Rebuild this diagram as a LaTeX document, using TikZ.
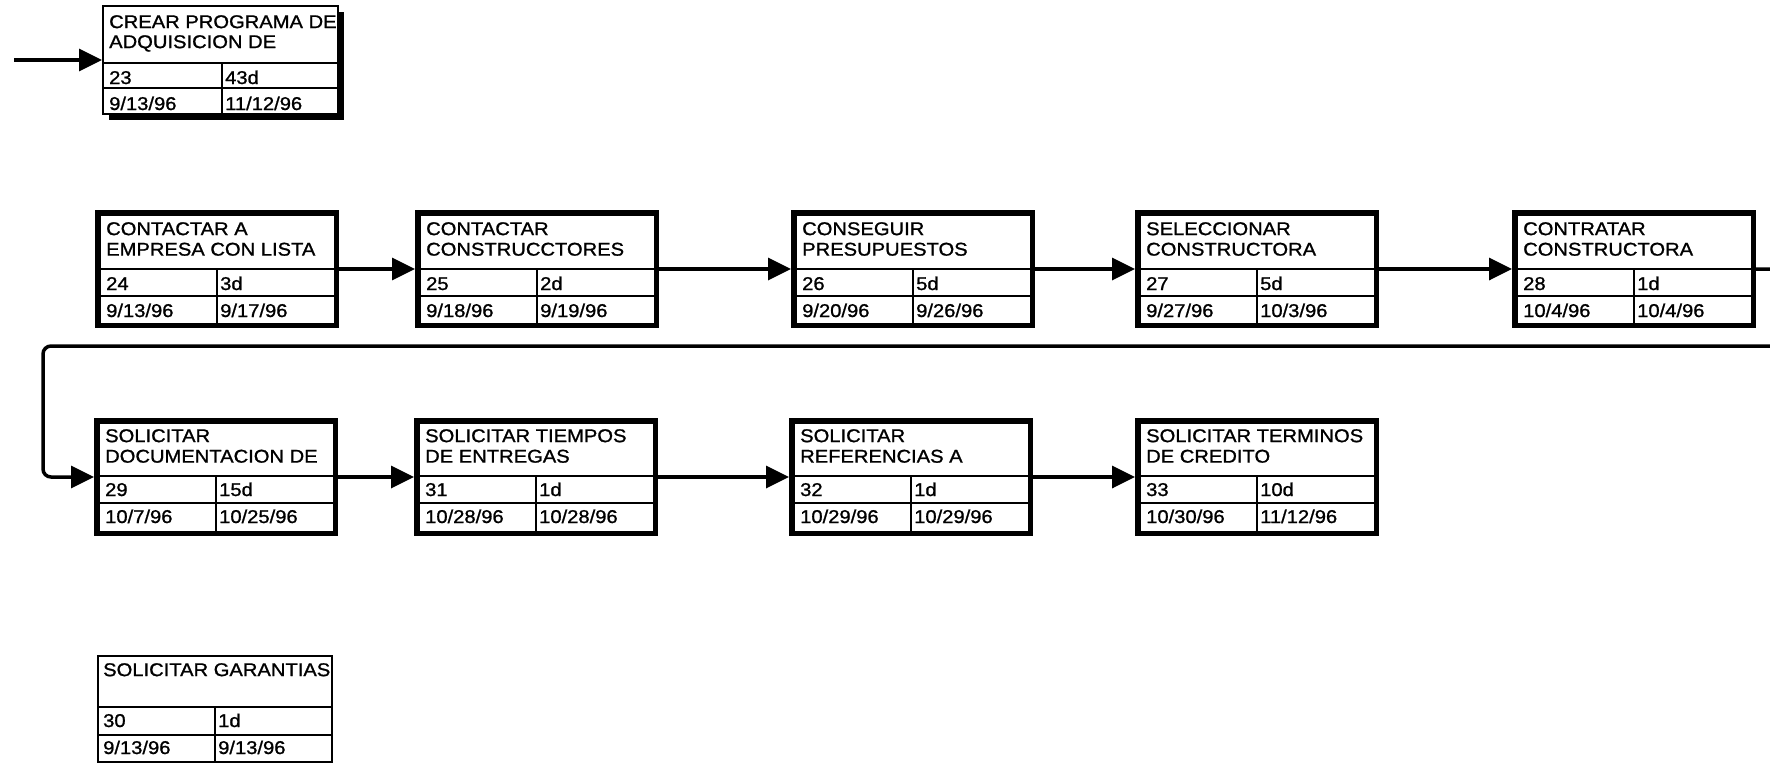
\documentclass[tikz,border=0pt]{standalone}
\usepackage{fontspec}
\setmainfont{Liberation Sans}[FakeStretch=1.09,FakeBold=1.1]
\usetikzlibrary{arrows.meta,shadows}

% geometry of the next boxes: width, height, title line, row line, split, baseline row 2, baseline row 3, cap top of title, border width
\newcommand\geom[9]{\def\bw{#1}\def\bh{#2}\def\bt{#3}\def\br{#4}\def\bs{#5}\def\bya{#6}\def\byb{#7}\def\ct{#8}\def\bl{#9}}
% name, style, x, y (outer top-left), title, id, duration, start, finish
\newcommand\taskbox[9]{%
  \node[box,#2,minimum width=\bw-\bl,minimum height=\bh-\bl,anchor=north west] (#1) at (#3,#4) {};
  \draw[sepline] (#3,#4+\bt) -- (#3+\bw,#4+\bt);
  \draw[sepline] (#3,#4+\br) -- (#3+\bw,#4+\br);
  \draw[sepline] (#3+\bs,#4+\bt) -- (#3+\bs,#4+\bh);
  \node[ttl] (#1-t) at (#3+\tx,#4+\ct) {#5};
  \node[cell] (#1-id) at (#3+\tx,#4+\bya) {#6};
  \node[cell] (#1-d) at (#3+\bs+3,#4+\bya) {#7};
  \node[cell] (#1-s) at (#3+\tx,#4+\byb) {#8};
  \node[cell] (#1-f) at (#3+\bs+3,#4+\byb) {#9};
}

\begin{document}
\begin{tikzpicture}[x=1pt,y=-1pt,
  box/.style={draw=black,fill=white,inner sep=0pt,line width=\bl pt},
  sepline/.style={draw=black,line width=2pt},
  txt/.style={inner sep=0pt,font=\fontsize{18.5}{\lsp}\selectfont,text=black},
  ttl/.style={txt,anchor=north west,align=left},
  cell/.style={txt,anchor=base west},
  conn/.style={draw=black,line width=3.5pt,-{Triangle[length=23pt,width=22pt]}},
  shadowed/.style={drop shadow={shadow xshift=6pt,shadow yshift=-6pt,fill=black,opacity=1}}]
\useasboundingbox (0,0) rectangle (1770,764);
\fill[white] (0,0) rectangle (1770,764);
\clip (0,0) rectangle (1770,764);

% box 23 (thin, shadowed)
\def\tx{7}\def\lsp{20}
\geom{237}{110}{58}{83}{120}{79}{105}{10}{2}
\taskbox{b23}{shadowed}{102}{5}{CREAR PROGRAMA DE\\ADQUISICION DE}{23}{43d}{9/13/96}{11/12/96}

% thick boxes, first row
\def\tx{11}\def\lsp{20.5}
\geom{244}{118}{59}{86}{122}{80}{107}{12}{5.5}
\taskbox{b24}{}{95}{210}{CONTACTAR A\\EMPRESA CON LISTA}{24}{3d}{9/13/96}{9/17/96}
\taskbox{b25}{}{415}{210}{CONTACTAR\\CONSTRUCCTORES}{25}{2d}{9/18/96}{9/19/96}
\taskbox{b26}{}{791}{210}{CONSEGUIR\\PRESUPUESTOS}{26}{5d}{9/20/96}{9/26/96}
\taskbox{b27}{}{1135}{210}{SELECCIONAR\\CONSTRUCTORA}{27}{5d}{9/27/96}{10/3/96}
\taskbox{b28}{}{1512}{210}{CONTRATAR\\CONSTRUCTORA}{28}{1d}{10/4/96}{10/4/96}

% thick boxes, second row
\geom{244}{118}{58}{85}{122}{78}{105}{11}{5.5}
\taskbox{b29}{}{94}{418}{SOLICITAR\\DOCUMENTACION DE}{29}{15d}{10/7/96}{10/25/96}
\taskbox{b31}{}{414}{418}{SOLICITAR TIEMPOS\\DE ENTREGAS}{31}{1d}{10/28/96}{10/28/96}
\taskbox{b32}{}{789}{418}{SOLICITAR\\REFERENCIAS A}{32}{1d}{10/29/96}{10/29/96}
\taskbox{b33}{}{1135}{418}{SOLICITAR TERMINOS\\DE CREDITO}{33}{10d}{10/30/96}{11/12/96}

% box 30 (thin)
\def\tx{6}
\geom{236}{108}{52}{80}{118}{72}{99}{8}{2}
\taskbox{b30}{}{97}{655}{SOLICITAR GARANTIAS}{30}{1d}{9/13/96}{9/13/96}

% connectors
\coordinate (in23) at (14,60);
\draw[conn] (in23) -- (b23.west);
\draw[conn] (b24.east) -- (b25.west);
\draw[conn] (b25.east) -- (b26.west);
\draw[conn] (b26.east) -- (b27.west);
\draw[conn] (b27.east) -- (b28.west);
\coordinate (loopR) at (1800,346);
\coordinate (loopL) at (43,346);
\draw[conn,rounded corners=8pt] (b28.east) -| (loopR) -- (loopL) |- (b29.west);
\draw[conn] (b29.east) -- (b31.west);
\draw[conn] (b31.east) -- (b32.west);
\draw[conn] (b32.east) -- (b33.west);
\end{tikzpicture}
\end{document}
